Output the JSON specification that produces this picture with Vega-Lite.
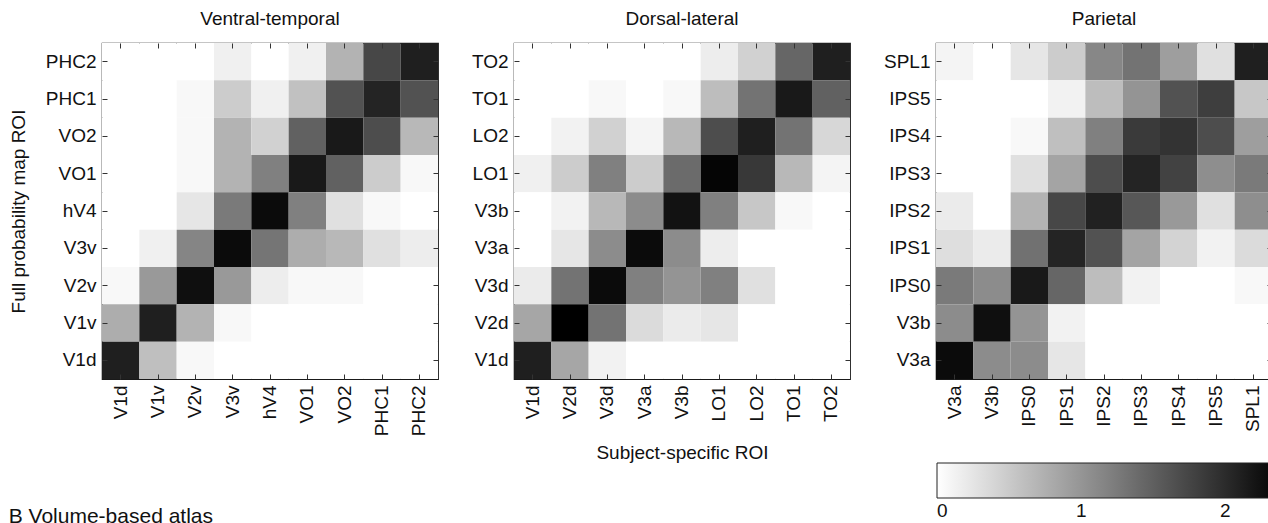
{
  "$schema": "https://vega.github.io/schema/vega-lite/v6.json",
  "background": "white",
  "padding": {"left": 8, "top": 8, "right": 0, "bottom": 0},
  "config": {
    "font": "Liberation Sans",
    "view": {"stroke": "#1a1a1a", "strokeWidth": 1.2},
    "axis": {
      "domain": false, "grid": false,
      "tickColor": "#333333", "tickSize": -5, "tickWidth": 1,
      "labelFontSize": 19, "labelColor": "#111111", "labelPadding": 11,
      "titleFontSize": 19, "titleFontWeight": "normal", "titleColor": "#111111"
    },
    "title": {"fontSize": 19, "fontWeight": "normal", "color": "#111111", "offset": 14}
  },
  "datasets": {
    "vt": [
      {"x":"V1d","y":"PHC2","v":0},{"x":"V1v","y":"PHC2","v":0},{"x":"V2v","y":"PHC2","v":0},{"x":"V3v","y":"PHC2","v":0.14},{"x":"hV4","y":"PHC2","v":0},{"x":"VO1","y":"PHC2","v":0.14},{"x":"VO2","y":"PHC2","v":0.72},{"x":"PHC1","y":"PHC2","v":1.73},{"x":"PHC2","y":"PHC2","v":2.11},
      {"x":"V1d","y":"PHC1","v":0},{"x":"V1v","y":"PHC1","v":0},{"x":"V2v","y":"PHC1","v":0.07},{"x":"V3v","y":"PHC1","v":0.48},{"x":"hV4","y":"PHC1","v":0.14},{"x":"VO1","y":"PHC1","v":0.58},{"x":"VO2","y":"PHC1","v":1.63},{"x":"PHC1","y":"PHC1","v":2.06},{"x":"PHC2","y":"PHC1","v":1.63},
      {"x":"V1d","y":"VO2","v":0},{"x":"V1v","y":"VO2","v":0},{"x":"V2v","y":"VO2","v":0.07},{"x":"V3v","y":"VO2","v":0.72},{"x":"hV4","y":"VO2","v":0.43},{"x":"VO1","y":"VO2","v":1.49},{"x":"VO2","y":"VO2","v":2.16},{"x":"PHC1","y":"VO2","v":1.68},{"x":"PHC2","y":"VO2","v":0.67},
      {"x":"V1d","y":"VO1","v":0},{"x":"V1v","y":"VO1","v":0},{"x":"V2v","y":"VO1","v":0.07},{"x":"V3v","y":"VO1","v":0.72},{"x":"hV4","y":"VO1","v":1.2},{"x":"VO1","y":"VO1","v":2.16},{"x":"VO2","y":"VO1","v":1.49},{"x":"PHC1","y":"VO1","v":0.48},{"x":"PHC2","y":"VO1","v":0.07},
      {"x":"V1d","y":"hV4","v":0},{"x":"V1v","y":"hV4","v":0},{"x":"V2v","y":"hV4","v":0.24},{"x":"V3v","y":"hV4","v":1.25},{"x":"hV4","y":"hV4","v":2.3},{"x":"VO1","y":"hV4","v":1.2},{"x":"VO2","y":"hV4","v":0.29},{"x":"PHC1","y":"hV4","v":0.07},{"x":"PHC2","y":"hV4","v":0},
      {"x":"V1d","y":"V3v","v":0},{"x":"V1v","y":"V3v","v":0.14},{"x":"V2v","y":"V3v","v":1.15},{"x":"V3v","y":"V3v","v":2.3},{"x":"hV4","y":"V3v","v":1.3},{"x":"VO1","y":"V3v","v":0.77},{"x":"VO2","y":"V3v","v":0.67},{"x":"PHC1","y":"V3v","v":0.29},{"x":"PHC2","y":"V3v","v":0.17},
      {"x":"V1d","y":"V2v","v":0.07},{"x":"V1v","y":"V2v","v":0.96},{"x":"V2v","y":"V2v","v":2.26},{"x":"V3v","y":"V2v","v":0.96},{"x":"hV4","y":"V2v","v":0.17},{"x":"VO1","y":"V2v","v":0.07},{"x":"VO2","y":"V2v","v":0.07},{"x":"PHC1","y":"V2v","v":0},{"x":"PHC2","y":"V2v","v":0},
      {"x":"V1d","y":"V1v","v":0.77},{"x":"V1v","y":"V1v","v":2.11},{"x":"V2v","y":"V1v","v":0.72},{"x":"V3v","y":"V1v","v":0.07},{"x":"hV4","y":"V1v","v":0},{"x":"VO1","y":"V1v","v":0},{"x":"VO2","y":"V1v","v":0},{"x":"PHC1","y":"V1v","v":0},{"x":"PHC2","y":"V1v","v":0},
      {"x":"V1d","y":"V1d","v":2.11},{"x":"V1v","y":"V1d","v":0.6},{"x":"V2v","y":"V1d","v":0.07},{"x":"V3v","y":"V1d","v":0},{"x":"hV4","y":"V1d","v":0},{"x":"VO1","y":"V1d","v":0},{"x":"VO2","y":"V1d","v":0},{"x":"PHC1","y":"V1d","v":0},{"x":"PHC2","y":"V1d","v":0}
    ],
    "dl": [
      {"x":"V1d","y":"TO2","v":0},{"x":"V2d","y":"TO2","v":0},{"x":"V3d","y":"TO2","v":0},{"x":"V3a","y":"TO2","v":0},{"x":"V3b","y":"TO2","v":0},{"x":"LO1","y":"TO2","v":0.17},{"x":"LO2","y":"TO2","v":0.43},{"x":"TO1","y":"TO2","v":1.44},{"x":"TO2","y":"TO2","v":2.11},
      {"x":"V1d","y":"TO1","v":0},{"x":"V2d","y":"TO1","v":0},{"x":"V3d","y":"TO1","v":0.07},{"x":"V3a","y":"TO1","v":0},{"x":"V3b","y":"TO1","v":0.07},{"x":"LO1","y":"TO1","v":0.62},{"x":"LO2","y":"TO1","v":1.32},{"x":"TO1","y":"TO1","v":2.16},{"x":"TO2","y":"TO1","v":1.49},
      {"x":"V1d","y":"LO2","v":0},{"x":"V2d","y":"LO2","v":0.12},{"x":"V3d","y":"LO2","v":0.43},{"x":"V3a","y":"LO2","v":0.1},{"x":"V3b","y":"LO2","v":0.67},{"x":"LO1","y":"LO2","v":1.68},{"x":"LO2","y":"LO2","v":2.11},{"x":"TO1","y":"LO2","v":1.32},{"x":"TO2","y":"LO2","v":0.38},
      {"x":"V1d","y":"LO1","v":0.14},{"x":"V2d","y":"LO1","v":0.48},{"x":"V3d","y":"LO1","v":1.2},{"x":"V3a","y":"LO1","v":0.48},{"x":"V3b","y":"LO1","v":1.39},{"x":"LO1","y":"LO1","v":2.35},{"x":"LO2","y":"LO1","v":1.87},{"x":"TO1","y":"LO1","v":0.67},{"x":"TO2","y":"LO1","v":0.1},
      {"x":"V1d","y":"V3b","v":0},{"x":"V2d","y":"V3b","v":0.12},{"x":"V3d","y":"V3b","v":0.67},{"x":"V3a","y":"V3b","v":1.08},{"x":"V3b","y":"V3b","v":2.23},{"x":"LO1","y":"V3b","v":1.2},{"x":"LO2","y":"V3b","v":0.53},{"x":"TO1","y":"V3b","v":0.07},{"x":"TO2","y":"V3b","v":0},
      {"x":"V1d","y":"V3a","v":0},{"x":"V2d","y":"V3a","v":0.24},{"x":"V3d","y":"V3a","v":1.08},{"x":"V3a","y":"V3a","v":2.3},{"x":"V3b","y":"V3a","v":1.08},{"x":"LO1","y":"V3a","v":0.17},{"x":"LO2","y":"V3a","v":0},{"x":"TO1","y":"V3a","v":0},{"x":"TO2","y":"V3a","v":0},
      {"x":"V1d","y":"V3d","v":0.19},{"x":"V2d","y":"V3d","v":1.32},{"x":"V3d","y":"V3d","v":2.3},{"x":"V3a","y":"V3d","v":1.2},{"x":"V3b","y":"V3d","v":1.01},{"x":"LO1","y":"V3d","v":1.2},{"x":"LO2","y":"V3d","v":0.29},{"x":"TO1","y":"V3d","v":0},{"x":"TO2","y":"V3d","v":0},
      {"x":"V1d","y":"V2d","v":0.84},{"x":"V2d","y":"V2d","v":2.4},{"x":"V3d","y":"V2d","v":1.32},{"x":"V3a","y":"V2d","v":0.34},{"x":"V3b","y":"V2d","v":0.19},{"x":"LO1","y":"V2d","v":0.24},{"x":"LO2","y":"V2d","v":0},{"x":"TO1","y":"V2d","v":0},{"x":"TO2","y":"V2d","v":0},
      {"x":"V1d","y":"V1d","v":2.11},{"x":"V2d","y":"V1d","v":0.84},{"x":"V3d","y":"V1d","v":0.12},{"x":"V3a","y":"V1d","v":0},{"x":"V3b","y":"V1d","v":0},{"x":"LO1","y":"V1d","v":0},{"x":"LO2","y":"V1d","v":0},{"x":"TO1","y":"V1d","v":0},{"x":"TO2","y":"V1d","v":0}
    ],
    "par": [
      {"x":"V3a","y":"SPL1","v":0.1},{"x":"V3b","y":"SPL1","v":0},{"x":"IPS0","y":"SPL1","v":0.24},{"x":"IPS1","y":"SPL1","v":0.48},{"x":"IPS2","y":"SPL1","v":1.13},{"x":"IPS3","y":"SPL1","v":1.32},{"x":"IPS4","y":"SPL1","v":0.91},{"x":"IPS5","y":"SPL1","v":0.29},{"x":"SPL1","y":"SPL1","v":2.11},
      {"x":"V3a","y":"IPS5","v":0},{"x":"V3b","y":"IPS5","v":0},{"x":"IPS0","y":"IPS5","v":0},{"x":"IPS1","y":"IPS5","v":0.12},{"x":"IPS2","y":"IPS5","v":0.62},{"x":"IPS3","y":"IPS5","v":1.01},{"x":"IPS4","y":"IPS5","v":1.63},{"x":"IPS5","y":"IPS5","v":1.82},{"x":"SPL1","y":"IPS5","v":0.53},
      {"x":"V3a","y":"IPS4","v":0},{"x":"V3b","y":"IPS4","v":0},{"x":"IPS0","y":"IPS4","v":0.07},{"x":"IPS1","y":"IPS4","v":0.6},{"x":"IPS2","y":"IPS4","v":1.2},{"x":"IPS3","y":"IPS4","v":1.85},{"x":"IPS4","y":"IPS4","v":1.92},{"x":"IPS5","y":"IPS4","v":1.68},{"x":"SPL1","y":"IPS4","v":0.91},
      {"x":"V3a","y":"IPS3","v":0},{"x":"V3b","y":"IPS3","v":0},{"x":"IPS0","y":"IPS3","v":0.29},{"x":"IPS1","y":"IPS3","v":0.86},{"x":"IPS2","y":"IPS3","v":1.68},{"x":"IPS3","y":"IPS3","v":2.06},{"x":"IPS4","y":"IPS3","v":1.78},{"x":"IPS5","y":"IPS3","v":1.06},{"x":"SPL1","y":"IPS3","v":1.25},
      {"x":"V3a","y":"IPS2","v":0.19},{"x":"V3b","y":"IPS2","v":0},{"x":"IPS0","y":"IPS2","v":0.72},{"x":"IPS1","y":"IPS2","v":1.73},{"x":"IPS2","y":"IPS2","v":2.09},{"x":"IPS3","y":"IPS2","v":1.58},{"x":"IPS4","y":"IPS2","v":0.96},{"x":"IPS5","y":"IPS2","v":0.29},{"x":"SPL1","y":"IPS2","v":1.06},
      {"x":"V3a","y":"IPS1","v":0.31},{"x":"V3b","y":"IPS1","v":0.19},{"x":"IPS0","y":"IPS1","v":1.34},{"x":"IPS1","y":"IPS1","v":2.06},{"x":"IPS2","y":"IPS1","v":1.63},{"x":"IPS3","y":"IPS1","v":0.86},{"x":"IPS4","y":"IPS1","v":0.41},{"x":"IPS5","y":"IPS1","v":0.12},{"x":"SPL1","y":"IPS1","v":0.34},
      {"x":"V3a","y":"IPS0","v":1.25},{"x":"V3b","y":"IPS0","v":1.08},{"x":"IPS0","y":"IPS0","v":2.16},{"x":"IPS1","y":"IPS0","v":1.44},{"x":"IPS2","y":"IPS0","v":0.62},{"x":"IPS3","y":"IPS0","v":0.12},{"x":"IPS4","y":"IPS0","v":0},{"x":"IPS5","y":"IPS0","v":0},{"x":"SPL1","y":"IPS0","v":0.07},
      {"x":"V3a","y":"V3b","v":1.08},{"x":"V3b","y":"V3b","v":2.26},{"x":"IPS0","y":"V3b","v":1.01},{"x":"IPS1","y":"V3b","v":0.12},{"x":"IPS2","y":"V3b","v":0},{"x":"IPS3","y":"V3b","v":0},{"x":"IPS4","y":"V3b","v":0},{"x":"IPS5","y":"V3b","v":0},{"x":"SPL1","y":"V3b","v":0},
      {"x":"V3a","y":"V3a","v":2.3},{"x":"V3b","y":"V3a","v":1.08},{"x":"IPS0","y":"V3a","v":1.08},{"x":"IPS1","y":"V3a","v":0.24},{"x":"IPS2","y":"V3a","v":0},{"x":"IPS3","y":"V3a","v":0},{"x":"IPS4","y":"V3a","v":0},{"x":"IPS5","y":"V3a","v":0},{"x":"SPL1","y":"V3a","v":0}
    ]
  },
  "title": {"text": "B Volume-based atlas", "orient": "bottom", "anchor": "start", "frame": "bounds", "fontSize": 21, "offset": -16, "dx": 0},
  "spacing": 30,
  "resolve": {"scale": {"color": "independent"}, "legend": {"color": "independent"}},
  "hconcat": [
    {
      "width": 336, "height": 336,
      "data": {"name": "vt"},
      "title": {"text": "Ventral-temporal"},
      "layer": [
        {
          "mark": {"type": "rect"},
          "encoding": {
            "x": {"field": "x", "type": "nominal", "sort": ["V1d","V1v","V2v","V3v","hV4","VO1","VO2","PHC1","PHC2"], "axis": {"labelAngle": -90, "title": null}},
            "y": {"field": "y", "type": "nominal", "sort": ["PHC2","PHC1","VO2","VO1","hV4","V3v","V2v","V1v","V1d"], "axis": {"title": "Full probability map ROI", "titlePadding": 17}},
            "color": {"field": "v", "type": "quantitative", "scale": {"type": "linear", "domain": [0, 2.4], "range": ["#ffffff", "#000000"], "interpolate": "rgb"}, "legend": null}
          }
        },
        {
          "mark": {"type": "rect", "opacity": 0},
          "encoding": {
            "x": {"field": "x", "type": "nominal", "sort": ["V1d","V1v","V2v","V3v","hV4","VO1","VO2","PHC1","PHC2"], "axis": {"orient": "top", "labels": false, "title": null}},
            "y": {"field": "y", "type": "nominal", "sort": ["PHC2","PHC1","VO2","VO1","hV4","V3v","V2v","V1v","V1d"], "axis": {"orient": "right", "labels": false, "title": null}}
          }
        }
      ],
      "resolve": {"axis": {"x": "independent", "y": "independent"}}
    },
    {
      "width": 336, "height": 336,
      "data": {"name": "dl"},
      "title": {"text": "Dorsal-lateral"},
      "layer": [
        {
          "mark": {"type": "rect"},
          "encoding": {
            "x": {"field": "x", "type": "nominal", "sort": ["V1d","V2d","V3d","V3a","V3b","LO1","LO2","TO1","TO2"], "axis": {"labelAngle": -90, "title": "Subject-specific ROI", "titlePadding": 22}},
            "y": {"field": "y", "type": "nominal", "sort": ["TO2","TO1","LO2","LO1","V3b","V3a","V3d","V2d","V1d"], "axis": {"title": null}},
            "color": {"field": "v", "type": "quantitative", "scale": {"type": "linear", "domain": [0, 2.4], "range": ["#ffffff", "#000000"], "interpolate": "rgb"}, "legend": null}
          }
        },
        {
          "mark": {"type": "rect", "opacity": 0},
          "encoding": {
            "x": {"field": "x", "type": "nominal", "sort": ["V1d","V2d","V3d","V3a","V3b","LO1","LO2","TO1","TO2"], "axis": {"orient": "top", "labels": false, "title": null}},
            "y": {"field": "y", "type": "nominal", "sort": ["TO2","TO1","LO2","LO1","V3b","V3a","V3d","V2d","V1d"], "axis": {"orient": "right", "labels": false, "title": null}}
          }
        }
      ],
      "resolve": {"axis": {"x": "independent", "y": "independent"}}
    },
    {
      "width": 336, "height": 336,
      "data": {"name": "par"},
      "title": {"text": "Parietal"},
      "layer": [
        {
          "mark": {"type": "rect"},
          "encoding": {
            "x": {"field": "x", "type": "nominal", "sort": ["V3a","V3b","IPS0","IPS1","IPS2","IPS3","IPS4","IPS5","SPL1"], "axis": {"labelAngle": -90, "title": null}},
            "y": {"field": "y", "type": "nominal", "sort": ["SPL1","IPS5","IPS4","IPS3","IPS2","IPS1","IPS0","V3b","V3a"], "axis": {"title": null}},
            "color": {
              "field": "v", "type": "quantitative",
              "scale": {"type": "linear", "domain": [0, 2.4], "range": ["#ffffff", "#000000"], "interpolate": "rgb"},
              "legend": {
                "orient": "none", "legendX": 1, "legendY": 420,
                "direction": "horizontal", "title": null,
                "gradientLength": 346, "gradientThickness": 35,
                "gradientStrokeColor": "#222222", "gradientStrokeWidth": 1,
                "values": [0, 1, 2], "format": "d",
                "labelFontSize": 19, "labelColor": "#111111",
                "labelAlign": "center", "labelOffset": 4
              }
            }
          }
        },
        {
          "mark": {"type": "rect", "opacity": 0},
          "encoding": {
            "x": {"field": "x", "type": "nominal", "sort": ["V3a","V3b","IPS0","IPS1","IPS2","IPS3","IPS4","IPS5","SPL1"], "axis": {"orient": "top", "labels": false, "title": null}},
            "y": {"field": "y", "type": "nominal", "sort": ["SPL1","IPS5","IPS4","IPS3","IPS2","IPS1","IPS0","V3b","V3a"], "axis": {"orient": "right", "labels": false, "title": null}}
          }
        }
      ],
      "resolve": {"axis": {"x": "independent", "y": "independent"}}
    }
  ]
}
